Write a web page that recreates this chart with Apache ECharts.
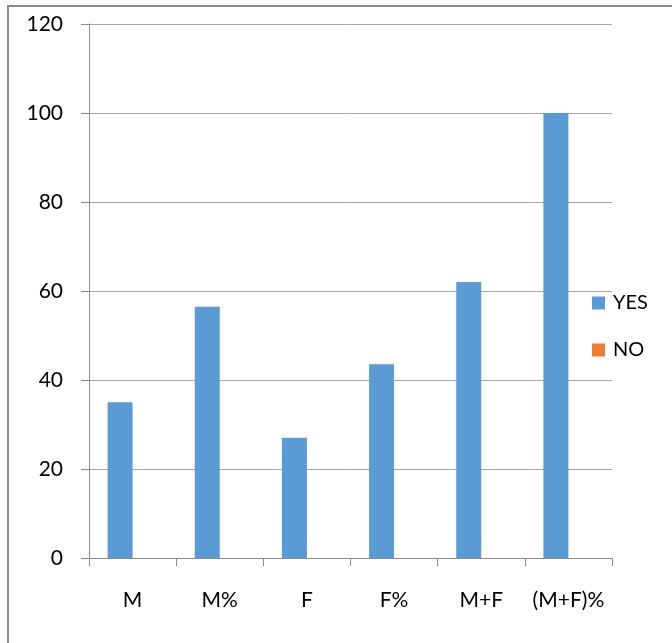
<!DOCTYPE html>
<html>
<head>
<meta charset="utf-8">
<script src="https://cdn.jsdelivr.net/npm/echarts@6/dist/echarts.min.js"></script>
<style>
html,body{margin:0;padding:0;background:#fff;}
#chart{width:672px;height:643px;position:absolute;left:0;top:0;}
#frame{position:absolute;left:7px;top:5px;width:680px;height:660px;border-left:2px solid #8a8a8a;border-top:2px solid #8a8a8a;pointer-events:none;}
</style>
</head>
<body>
<div id="chart"></div>
<div id="frame"></div>
<script>
const categories = ['M', 'M%', 'F', 'F%', 'M+F', '(M+F)%'];
const yesValues = [35, 56.45, 27, 43.55, 62, 100];
const noValues = [0, 0, 0, 0, 0, 0];
const yTicks = [0, 20, 40, 60, 80, 100, 120];

const FONT = 'Lato, "Open Sans", sans-serif';
const chart = echarts.init(document.getElementById('chart'), null, {renderer: 'canvas'});
chart.setOption({
  animation: false,
  grid: {left: 89, right: 60, top: 24, bottom: 85, containLabel: false},
  legend: {
    orient: 'vertical',
    left: 587,
    top: 287,
    itemWidth: 13,
    itemHeight: 13,
    itemGap: 25,
    icon: 'rect',
    textStyle: {fontFamily: FONT, fontSize: 20, color: '#000', padding: [0, 0, 0, 3], lineHeight: 22},
    data: ['YES', 'NO']
  },
  xAxis: {
    type: 'category',
    data: categories,
    axisLine: {lineStyle: {color: '#8c8c8c', width: 1}},
    axisTick: {show: true, length: 8, lineStyle: {color: '#8c8c8c'}},
    axisLabel: {fontFamily: FONT, fontSize: 21, lineHeight: 24, color: '#000', margin: 30, interval: 0, hideOverlap: false}
  },
  yAxis: {
    type: 'value',
    min: yTicks[0],
    max: yTicks[yTicks.length - 1],
    interval: 20,
    axisLine: {show: true, lineStyle: {color: '#8c8c8c', width: 1}},
    axisTick: {show: true, length: 8, lineStyle: {color: '#8c8c8c'}},
    axisLabel: {fontFamily: FONT, fontSize: 21, color: '#000', margin: 26},
    splitLine: {show: true, lineStyle: {color: '#a6a6a6', width: 1}}
  },
  series: [
    {name: 'YES', type: 'bar', data: yesValues, barWidth: 25, barGap: '0%', itemStyle: {color: '#5b9bd5'}},
    {name: 'NO', type: 'bar', data: noValues, barWidth: 25, barGap: '0%', itemStyle: {color: '#ed7d31'}}
  ]
});
</script>
</body>
</html>
